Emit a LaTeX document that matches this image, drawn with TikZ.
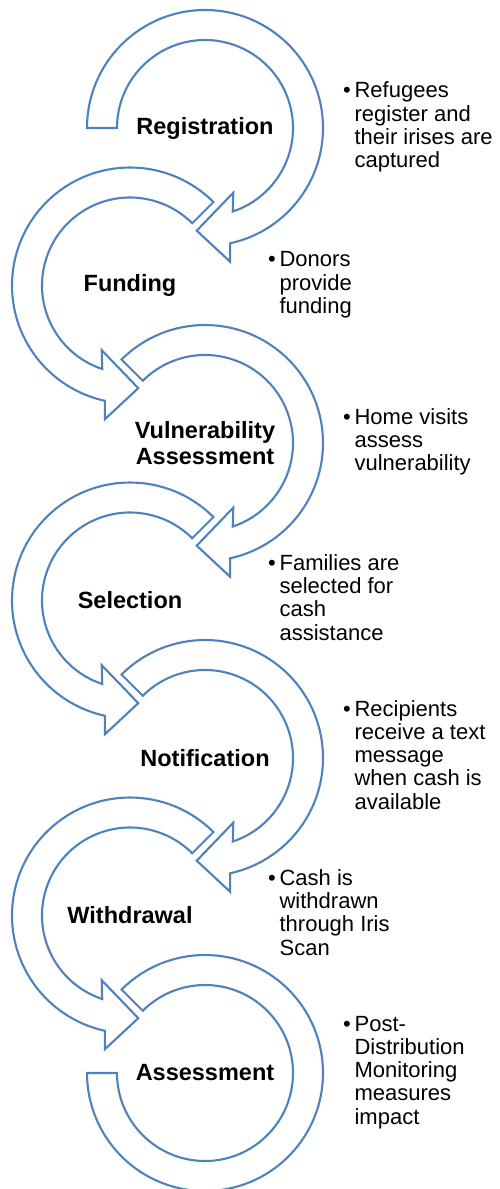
\documentclass[tikz,border=0pt]{standalone}
\usepackage{fontspec}
\setmainfont{Liberation Sans}
\usepackage{xcolor}
\usepackage{tikz}
\usetikzlibrary{positioning}
\definecolor{ringblue}{RGB}{79,129,189}
\tikzset{ring/.style={draw=ringblue,line width=2.1,fill=white,line join=miter},
  step name/.style={font=\fontsize{23.5}{26}\selectfont\bfseries,align=center,inner sep=0},
  desc/.style={anchor=west,inner sep=0,font=\fontsize{22}{23.3}\selectfont},
  pics/bend/.style={code={
    \path[ring] (#1:118) arc[start angle=#1,end angle=-77.7,radius=118]
      -- (-79.4:136) -- (-94.6:103) -- (-66.4:70.6) -- (-71.6:88)
      arc[start angle=-71.6,end angle=#1,radius=88] -- cycle;}},
  pics/tail/.style={code={
    \path[ring] (#1:118) arc[start angle=#1,end angle=-180,radius=118]
      -- (-180:88) arc[start angle=-180,end angle=#1,radius=88] -- cycle;}}}

\begin{document}
\begin{tikzpicture}[x=1pt,y=1pt]
    \useasboundingbox (0,0) rectangle (499,-1189);

    \pic at (205,-128) {bend=180};
    \pic[xscale=-1] at (130,-285.5) {bend=135};
    \pic at (205,-443) {bend=135};
    \pic[xscale=-1] at (130,-600.5) {bend=135};
    \pic at (205,-758) {bend=135};
    \pic[xscale=-1] at (130,-915.5) {bend=135};
    \pic at (205,-1073) {tail=135};

    \node[step name] (a) at (205,-128) {Registration};
    \node[step name] (b) at (130,-285.5) {Funding};
    \node[step name] (c) at (205,-443) {Vulnerability\\Assessment};
    \node[step name] (d) at (130,-600.5) {Selection};
    \node[step name] (e) at (205,-758) {Notification};
    \node[step name] (f) at (130,-915.5) {Withdrawal};
    \node[step name] (g) at (205,-1073) {Assessment};

    \node[desc] (ta) at (343,-128) {\begin{tabular}{@{}l@{\hspace{3.7pt}}l@{}}\textbullet & Refugees\\ & register and\\ & their irises are\\ & captured\end{tabular}};
    \node[desc] (tb) at (268,-285.5) {\begin{tabular}{@{}l@{\hspace{3.7pt}}l@{}}\textbullet & Donors\\ & provide\\ & funding\end{tabular}};
    \node[desc] (tc) at (343,-443) {\begin{tabular}{@{}l@{\hspace{3.7pt}}l@{}}\textbullet & Home visits\\ & assess\\ & vulnerability\end{tabular}};
    \node[desc] (td) at (268,-600.5) {\begin{tabular}{@{}l@{\hspace{3.7pt}}l@{}}\textbullet & Families are\\ & selected for\\ & cash\\ & assistance\end{tabular}};
    \node[desc] (te) at (343,-758) {\begin{tabular}{@{}l@{\hspace{3.7pt}}l@{}}\textbullet & Recipients\\ & receive a text\\ & message\\ & when cash is\\ & available\end{tabular}};
    \node[desc] (tf) at (268,-915.5) {\begin{tabular}{@{}l@{\hspace{3.7pt}}l@{}}\textbullet & Cash is\\ & withdrawn\\ & through Iris\\ & Scan\end{tabular}};
    \node[desc] (tg) at (343,-1073) {\begin{tabular}{@{}l@{\hspace{3.7pt}}l@{}}\textbullet & Post-\\ & Distribution\\ & Monitoring\\ & measures\\ & impact\end{tabular}};
\end{tikzpicture}
\end{document}
